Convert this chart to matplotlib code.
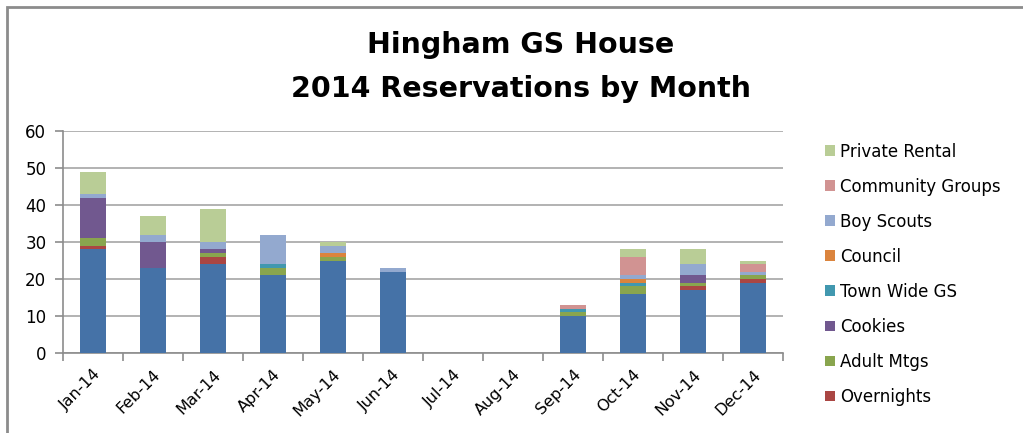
# Hingham GS House - 2014 reservations by month (stacked bars, Excel-2007 look)
import matplotlib; matplotlib.use("Agg")
import matplotlib.pyplot as plt
import numpy as np
from matplotlib.patches import Rectangle, Patch

months = ["Jan-14", "Feb-14", "Mar-14", "Apr-14", "May-14", "Jun-14",
          "Jul-14", "Aug-14", "Sep-14", "Oct-14", "Nov-14", "Dec-14"]

girl_scouts     = [28, 23, 24, 21, 25, 22, 0, 0, 10, 16, 17, 19]
overnights      = [1, 0, 2, 0, 0, 0, 0, 0, 0, 0, 1, 1]
adult_mtgs      = [2, 0, 1, 2, 1, 0, 0, 0, 1, 2, 1, 1]
cookies         = [11, 7, 1, 0, 0, 0, 0, 0, 0, 0, 2, 0]
town_wide_gs    = [0, 0, 0, 1, 0, 0, 0, 0, 1, 1, 0, 0]
council         = [0, 0, 0, 0, 1, 0, 0, 0, 0, 1, 0, 0]
boy_scouts      = [1, 2, 2, 8, 2, 1, 0, 0, 0, 1, 3, 1]
community_grps  = [0, 0, 0, 0, 0, 0, 0, 0, 1, 5, 0, 2]
private_rental  = [6, 5, 9, 0, 1, 0, 0, 0, 0, 2, 4, 1]

series = [
    ("Girl Scouts", girl_scouts, "#4572A7"),
    ("Overnights", overnights, "#AA4643"),
    ("Adult Mtgs", adult_mtgs, "#89A54E"),
    ("Cookies", cookies, "#71588F"),
    ("Town Wide GS", town_wide_gs, "#4198AF"),
    ("Council", council, "#DB843D"),
    ("Boy Scouts", boy_scouts, "#93A9CF"),
    ("Community Groups", community_grps, "#D19392"),
    ("Private Rental", private_rental, "#B9CD96"),
]

plt.rcParams["font.family"] = ["DejaVu Sans"]
fig = plt.figure(figsize=(10.23, 4.33), dpi=100)
ax = fig.add_axes([63 / 1023, 1 - 353 / 433, 720 / 1023, 222 / 433])

x = np.arange(len(months))
bottom = np.zeros(len(months))
for name, vals, col in series:
    ax.bar(x, vals, width=0.42, bottom=bottom, color=col, edgecolor="none", zorder=3)
    bottom += np.array(vals)

ax.set_xlim(-0.5, len(months) - 0.5)
ax.set_ylim(0, 60)
ax.set_yticks(range(0, 61, 10))
ax.yaxis.grid(True, color="#A6A6A6", lw=1.2, zorder=0)
for s in ["top", "right"]:
    ax.spines[s].set_visible(False)
for s in ["left", "bottom"]:
    ax.spines[s].set_color("#8C8C8C")
    ax.spines[s].set_linewidth(1.2)

ax.set_xticks(x)
ax.set_xticklabels(months, rotation=45, ha="right", rotation_mode="anchor", fontsize=11.5)
ax.set_xticks(np.arange(-0.5, len(months)), minor=True)
ax.tick_params(axis="x", which="major", length=0, pad=10)
ax.tick_params(axis="x", which="minor", length=6, color="#8C8C8C", width=1.2)
ax.tick_params(axis="y", length=6, color="#8C8C8C", width=1.2, labelsize=12, pad=6)

fig.text(0.509, 0.897, "Hingham GS House", ha="center", va="center",
         fontsize=20.5, fontweight="bold")
fig.text(0.509, 0.795, "2014 Reservations by Month", ha="center", va="center",
         fontsize=20.5, fontweight="bold")

handles = [Patch(facecolor=c, label=n) for n, v, c in series[::-1][:-1]]
fig.legend(handles=handles, loc="upper left", bbox_to_anchor=(818 / 1023, 1 - 136 / 433),
           frameon=False, fontsize=12, handlelength=0.6, handleheight=0.6,
           handletextpad=0.3, labelspacing=1.02, borderaxespad=0)

fig.patches.append(Rectangle((7 / 1023, -0.1), 1.2, 1 - 7 / 433 + 0.1,
                             transform=fig.transFigure, fill=False,
                             edgecolor="#8C8C8C", lw=2))

fig.savefig("out.png", dpi=100)
